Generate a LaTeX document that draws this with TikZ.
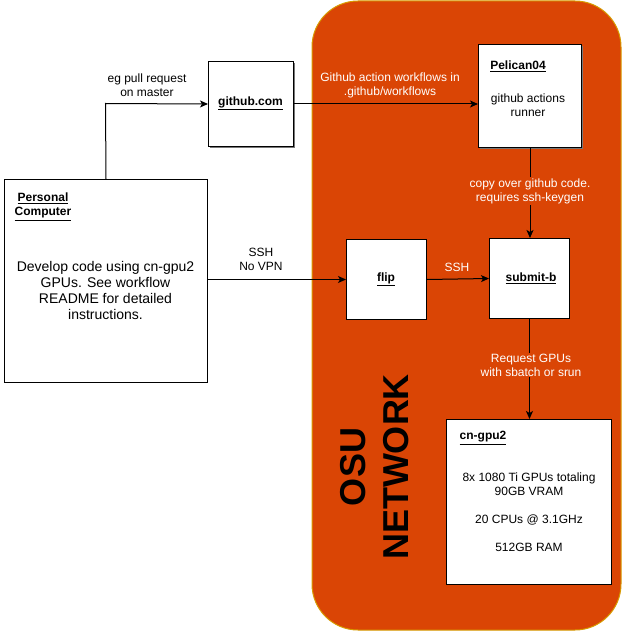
\documentclass[tikz,border=0pt]{standalone}
\usepackage{fontspec}
\setmainfont{Liberation Sans}
\usetikzlibrary{arrows.meta}
\definecolor{osu}{HTML}{DA4505}
\definecolor{osuborder}{HTML}{D79B00}
\definecolor{shadowgray}{HTML}{777777}
\tikzset{
  box/.style={draw=black, fill=white, line width=1pt, inner sep=0pt, anchor=north west},
  shbox/.style={box, preaction={fill=shadowgray, transform canvas={shift={(1.5pt,-1.5pt)}}}},
  lbl/.style={font=\fontsize{12}{14}\selectfont, align=center, inner sep=0pt},
  wlbl/.style={lbl, text=white},
  ttl/.style={font=\fontsize{12}{14}\selectfont\bfseries, align=center, inner sep=0pt},
  conn/.style={draw=black, line width=1pt, -{Stealth[length=8pt,width=7pt,inset=2pt]}},
}
\newcommand{\ul}[1]{\underline{#1}}
\begin{document}
\begin{tikzpicture}[x=1pt,y=-1pt]
\useasboundingbox (0,0) rectangle (643,631);
% OSU network region
\draw[fill=osu, draw=osuborder, line width=1pt, rounded corners=46pt] (312,1) -- (621,1) -- (621,630) -- (312,630) -- cycle;
\node[font=\fontsize{36}{43}\selectfont\bfseries, rotate=90, align=center, inner sep=0pt] (osu) at (375,467) {OSU\\NETWORK};

% boxes
\node[box, minimum width=203pt, minimum height=203pt] (pc) at (4,179) {};
\node[ttl, anchor=north] (pct) at (43,193) {\ul{Personal}\\\ul{Computer}};
\node[font=\fontsize{14}{16}\selectfont, align=center, inner sep=0pt] (pcx) at (105.5,290) {Develop code using cn-gpu2\\GPUs. See workflow\\README for detailed\\instructions.};

\node[shbox, minimum width=85pt, minimum height=85pt] (gh) at (208,61) {};
\node[ttl] (ght) at (250.5,103.5) {\ul{github.com}};

\node[shbox, minimum width=103pt, minimum height=103pt] (pel) at (478,44) {};
\node[ttl] (pelt) at (518,66) {\ul{Pelican04}};
\node[lbl] (pelx) at (528,105) {github actions\\runner};

\node[box, minimum width=80pt, minimum height=80pt] (flip) at (346,239) {};
\node[ttl] (flipt) at (386,279) {\ul{flip}};

\node[box, minimum width=80pt, minimum height=80pt] (sub) at (489,238) {};
\node[ttl] (subt) at (531,278) {\ul{submit-b}};

\node[box, minimum width=165pt, minimum height=165pt] (gpu) at (446,419) {};
\node[ttl] (gput) at (483,438) {\ul{cn-gpu2}};
\node[lbl] (gpux) at (529,512) {8x 1080 Ti GPUs totaling\\90GB VRAM\\[14pt]20 CPUs @ 3.1GHz\\[14pt]512GB RAM};

% connectors
\coordinate (c1) at (105.5,103.5);
\draw[conn] (pc.north) -- (c1) -- (gh.west);
\node[lbl] (l1) at (147,85) {eg pull request\\on master};

\draw[conn] (gh.east) -- (pel.west |- gh.east);
\node[wlbl] (l2) at (390,85) {Github action workflows in\\.github/workflows};

\draw[conn] (pel.south) -- (pel.south |- sub.north);
\node[wlbl, fill=osu, inner sep=1pt] (l3) at (530,191) {copy over github code.\\requires ssh-keygen};

\draw[conn] (pc.east |- flip.west) -- (flip.west);
\node[lbl] (l4) at (261,259) {SSH\\No VPN};

\draw[conn] (flip.east) -- (sub.west);
\node[wlbl] (l5) at (457,267) {SSH};

\draw[conn] (sub.south) -- (gpu.north -| sub.south);
\node[wlbl, fill=osu, inner sep=1pt] (l6) at (531,365) {Request GPUs\\with sbatch or srun};
\end{tikzpicture}
\end{document}
